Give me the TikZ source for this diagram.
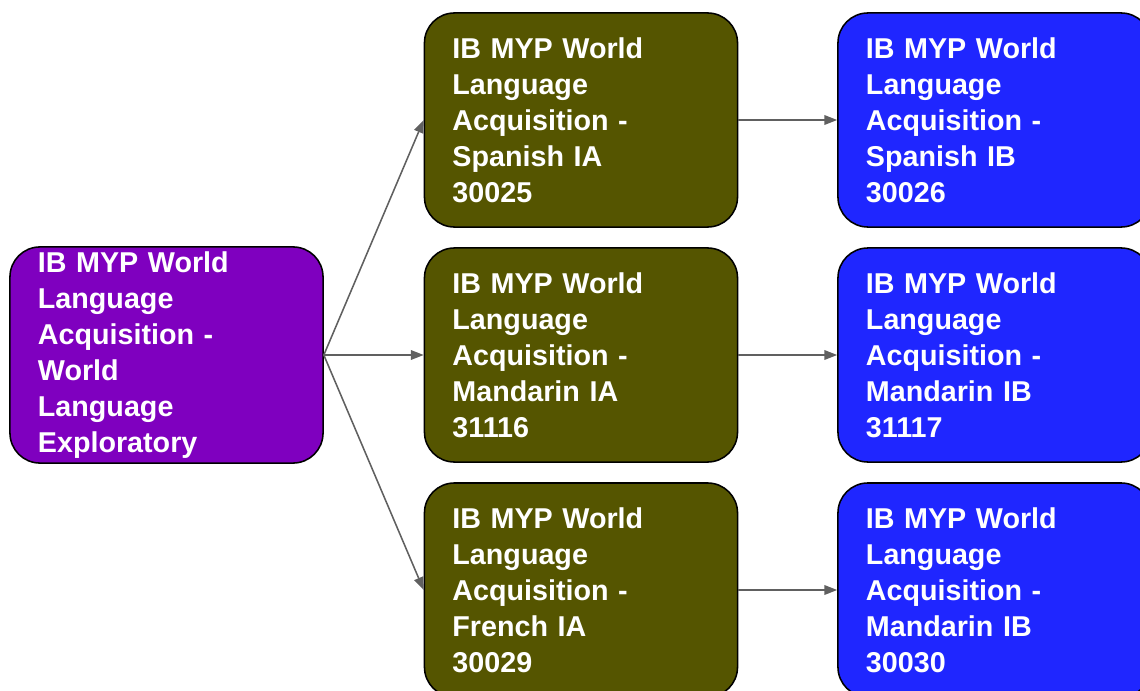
\documentclass[tikz,border=0pt]{standalone}
\usepackage{fontspec}
\setmainfont{Liberation Sans}
\usetikzlibrary{arrows.meta}
\definecolor{lwepurple}{RGB}{127,0,191}
\definecolor{iaolive}{RGB}{85,85,0}
\definecolor{ibblue}{RGB}{31,38,255}
\definecolor{linkgray}{RGB}{96,96,96}
\tikzset{
  course/.style={draw=black, line width=1.1pt, rounded corners=0.75cm,
    minimum width=7.825cm, minimum height=5.35cm, text width=6.425cm,
    inner xsep=0.7cm, align=left, text=white,
    font=\fontsize{20.4}{25.6}\selectfont\bfseries},
  link/.style={-{Triangle[length=0.32cm,width=0.24cm]}, draw=linkgray, line width=1.1pt}
}
\begin{document}
\begin{tikzpicture}[x=0.025cm,y=-0.025cm]
\useasboundingbox (0,0) rectangle (1140,691);

\node[course, fill=lwepurple] (lwe) at (166.5,355) {IB MYP World\\Language\\Acquisition -\\World\\Language\\Exploratory};

\node[course, fill=iaolive] (spa) at (581,120) {IB MYP World\\Language\\Acquisition -\\Spanish IA\\30025};
\node[course, fill=iaolive] (mna) at (581,355) {IB MYP World\\Language\\Acquisition -\\Mandarin IA\\31116};
\node[course, fill=iaolive] (fra) at (581,590) {IB MYP World\\Language\\Acquisition -\\French IA\\30029};

\node[course, fill=ibblue] (spb) at (994.5,120) {IB MYP World\\Language\\Acquisition -\\Spanish IB\\30026};
\node[course, fill=ibblue] (mnb) at (994.5,355) {IB MYP World\\Language\\Acquisition -\\Mandarin IB\\31117};
\node[course, fill=ibblue] (frb) at (994.5,590) {IB MYP World\\Language\\Acquisition -\\Mandarin IB\\30030};

\foreach \a in {spa,mna,fra} {\draw[link] (lwe.east) -- (\a.west);}
\foreach \a/\b in {spa/spb,mna/mnb,fra/frb} {\draw[link] (\a.east) -- (\b.west);}
\end{tikzpicture}
\end{document}
